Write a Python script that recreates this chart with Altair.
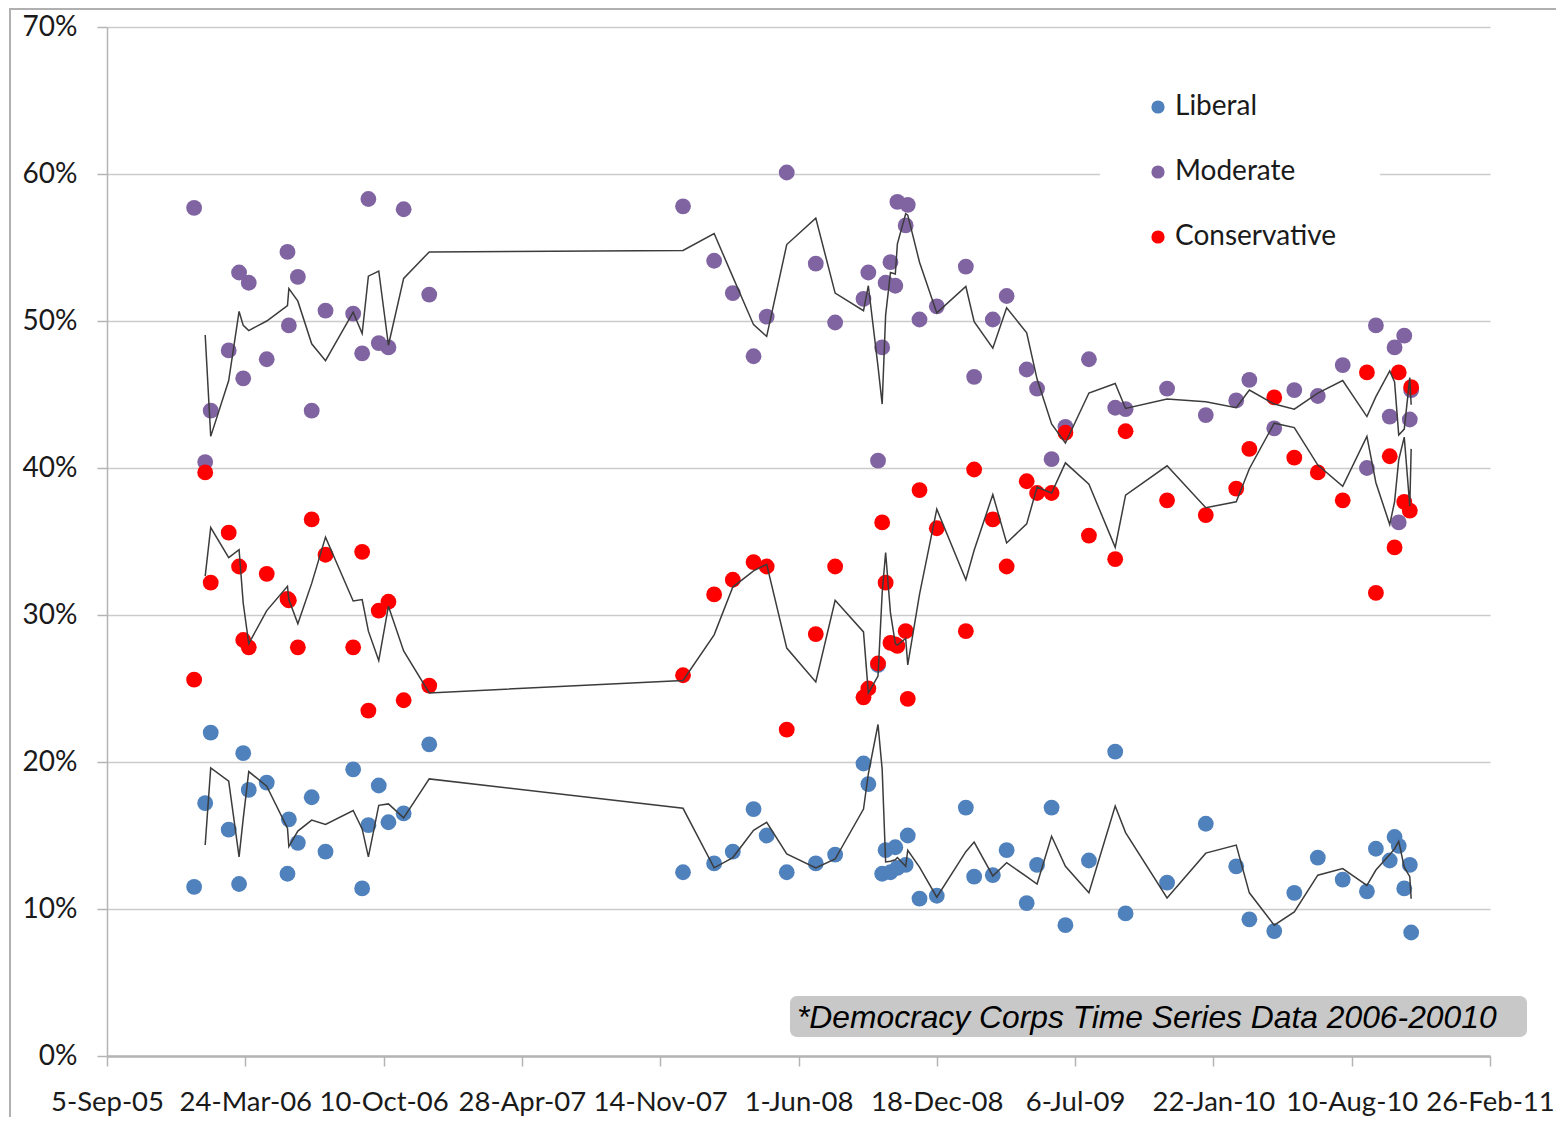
import altair as alt
import pandas as pd

# ---- data (percent of respondents) ----
poll_dates = [
    "2006-01-09", "2006-01-25", "2006-02-02", "2006-02-28", "2006-03-15", "2006-03-21",
    "2006-03-29", "2006-04-24", "2006-05-24", "2006-05-26", "2006-06-08", "2006-06-28",
    "2006-07-18", "2006-08-27", "2006-09-09", "2006-09-18", "2006-10-03", "2006-10-17",
    "2006-11-08", "2006-12-15", "2007-12-17", "2008-01-31", "2008-02-27", "2008-03-28",
    "2008-04-16", "2008-05-15", "2008-06-26", "2008-07-24", "2008-09-03", "2008-09-10",
    "2008-09-24", "2008-09-30", "2008-10-05", "2008-10-12", "2008-10-19", "2008-10-22",
    "2008-11-03", "2008-11-06", "2008-11-23", "2008-12-18", "2009-01-29", "2009-02-10",
    "2009-03-09", "2009-03-29", "2009-04-27", "2009-05-12", "2009-06-02", "2009-06-22",
    "2009-07-26", "2009-09-02", "2009-09-17", "2009-11-16", "2010-01-11", "2010-02-24",
    "2010-03-15", "2010-04-20", "2010-05-19", "2010-06-22", "2010-07-28", "2010-09-01",
    "2010-09-14", "2010-10-04", "2010-10-11", "2010-10-17", "2010-10-25", "2010-11-02",
    "2010-11-04",
]
liberal = [
    11.5, 17.2, 22.0, 15.4, 11.7, 20.6, 18.1, 18.6, 12.4, 16.1, 14.5, 17.6,
    13.9, 19.5, 11.4, 15.7, 18.4, 15.9, 16.5, 21.2, 12.5, 13.1, 13.9, 16.8,
    15.0, 12.5, 13.1, 13.7, 19.9, 18.5, 26.6, 12.4, 14.0, 12.5, 14.2, 12.8,
    13.0, 15.0, 10.7, 10.9, 16.9, 12.2, 12.3, 14.0, 10.4, 13.0, 16.9, 8.9,
    13.3, 20.7, 9.7, 11.8, 15.8, 12.9, 9.3, 8.5, 11.1, 13.5, 12.0, 11.2,
    14.1, 13.3, 14.9, 14.3, 11.4, 13.0, 8.4,
]
moderate = [
    57.7, 40.4, 43.9, 48.0, 53.3, 46.1, 52.6, 47.4, 54.7, 49.7, 53.0, 43.9,
    50.7, 50.5, 47.8, 58.3, 48.5, 48.2, 57.6, 51.8, 57.8, 54.1, 51.9, 47.6,
    50.3, 60.1, 53.9, 49.9, 51.5, 53.3, 40.5, 48.2, 52.6, 54.0, 52.4, 58.1,
    56.5, 57.9, 50.1, 51.0, 53.7, 46.2, 50.1, 51.7, 46.7, 45.4, 40.6, 42.8,
    47.4, 44.1, 44.0, 45.4, 43.6, 44.6, 46.0, 42.7, 45.3, 44.9, 47.0, 40.0,
    49.7, 43.5, 48.2, 36.3, 49.0, 43.3, 45.3,
]
conservative = [
    25.6, 39.7, 32.2, 35.6, 33.3, 28.3, 27.8, 32.8, 31.1, 31.0, 27.8, 36.5,
    34.1, 27.8, 34.3, 23.5, 30.3, 30.9, 24.2, 25.2, 25.9, 31.4, 32.4, 33.6,
    33.3, 22.2, 28.7, 33.3, 24.4, 25.0, 26.7, 36.3, 32.2, 28.1, 28.0, 27.9,
    28.9, 24.3, 38.5, 35.9, 28.9, 39.9, 36.5, 33.3, 39.1, 38.3, 38.3, 42.4,
    35.4, 33.8, 42.5, 37.8, 36.8, 38.6, 41.3, 44.8, 40.7, 39.7, 37.8, 46.5,
    31.5, 40.8, 34.6, 46.5, 37.7, 37.1, 45.5,
]
series_names = ["Liberal", "Moderate", "Conservative"]
series_colors = ["#4F81BD", "#8064A2", "#FF0000"]
x_tick_dates = [
    "2005-09-05", "2006-03-24", "2006-10-10", "2007-04-28", "2007-11-14", "2008-06-01",
    "2008-12-18", "2009-07-06", "2010-01-22", "2010-08-10", "2011-02-26",
]
y_ticks = [0, 10, 20, 30, 40, 50, 60, 70]
note_text = ["*Democracy Corps Time Series Data 2006-20010"]

# ---- tables ----
rows = []
for name, vals in zip(series_names, [liberal, moderate, conservative]):
    for d, v in zip(poll_dates, vals):
        rows.append({"date": d, "series": name, "value": v})
df = pd.DataFrame(rows)


def ms(s):
    return int(pd.Timestamp(s, tz="UTC").value // 10**6)


W, H = 1383, 1029
AXIS_GRAY = "#b4b4b4"
TEXT = "#1a1a1a"

x_enc = alt.X(
    "date:T",
    scale=alt.Scale(type="utc", domain=[ms(x_tick_dates[0]), ms(x_tick_dates[-1])], nice=False),
    axis=alt.Axis(
        title=None,
        values=[ms(d) for d in x_tick_dates],
        labelExpr="utcFormat(datum.value, '%-d-%b-%y')",
        grid=False,
        labelFont="Lato",
        labelFontSize=27.5,
        labelColor=TEXT,
        labelBaseline="alphabetic",
        labelPadding=44,
        labelOverlap=False,
        labelFlush=False,
        labelBound=False,
        tickSize=10,
        tickColor=AXIS_GRAY,
        tickWidth=1.5,
        domainColor=AXIS_GRAY,
        domainWidth=2.5,
    ),
)
y_scale = alt.Scale(domain=[0, 70], nice=False)
y_axis = alt.Axis(
    title=None,
    values=y_ticks,
    labelExpr="datum.value + '%'",
    grid=True,
    gridColor="#cbcbcb",
    gridWidth=1.5,
    labelFont="Lato",
    labelFontSize=28,
    labelColor=TEXT,
    labelPadding=20,
    tickSize=10,
    tickColor=AXIS_GRAY,
    tickWidth=1.5,
    domainColor=AXIS_GRAY,
    domainWidth=1.5,
)

one = pd.DataFrame({"note": note_text})

border = alt.Chart(one).mark_rect(
    fill="white", fillOpacity=0, stroke="#b0b0b0", strokeWidth=2
).encode(
    x=alt.value(-97), x2=alt.value(W + 90), y=alt.value(-18), y2=alt.value(H + 90)
)

note_box = alt.Chart(one).mark_rect(fill="#c8c8c8", cornerRadius=7).encode(
    x=alt.value(683), x2=alt.value(1420), y=alt.value(969), y2=alt.value(1010)
)
note = alt.Chart(one).mark_text(
    align="left", baseline="middle", font="Liberation Sans", fontStyle="italic",
    fontSize=31.8, color="#000000",
).encode(x=alt.value(690), y=alt.value(991), text="note:N")

points = alt.Chart(df).mark_circle(size=250, opacity=1).encode(
    x=x_enc,
    y=alt.Y("value:Q", scale=y_scale, axis=y_axis),
    color=alt.Color(
        "series:N",
        scale=alt.Scale(domain=series_names, range=series_colors),
        legend=alt.Legend(
            title=None,
            orient="none",
            legendX=993,
            legendY=22,
            fillColor="white",
            padding=44,
            labelFont="Lato",
            labelFontSize=28,
            labelColor=TEXT,
            labelOffset=3,
            labelLimit=400,
            symbolType="circle",
            symbolSize=175,
            symbolStrokeWidth=0,
            rowPadding=37,
        ),
    ),
)

lines = alt.Chart(df).transform_window(
    ma="mean(value)",
    idx="row_number()",
    frame=[-1, 0],
    groupby=["series"],
    sort=[alt.SortField(field="date", order="ascending")],
).transform_filter("datum.idx > 1").mark_line(color="#3c3c3c", strokeWidth=1.5).encode(
    x=x_enc,
    y=alt.Y("ma:Q", scale=y_scale, axis=y_axis),
    detail="series:N",
)

chart = alt.layer(border, note_box, note, points, lines).properties(
    width=W,
    height=H,
    autosize=alt.AutoSizeParams(type="none"),
    padding={"left": 99, "top": 19, "right": 66, "bottom": 61},
    background="white",
).configure_view(strokeWidth=0)

chart.save("out.html", embed_options={"renderer": "svg", "actions": False})
